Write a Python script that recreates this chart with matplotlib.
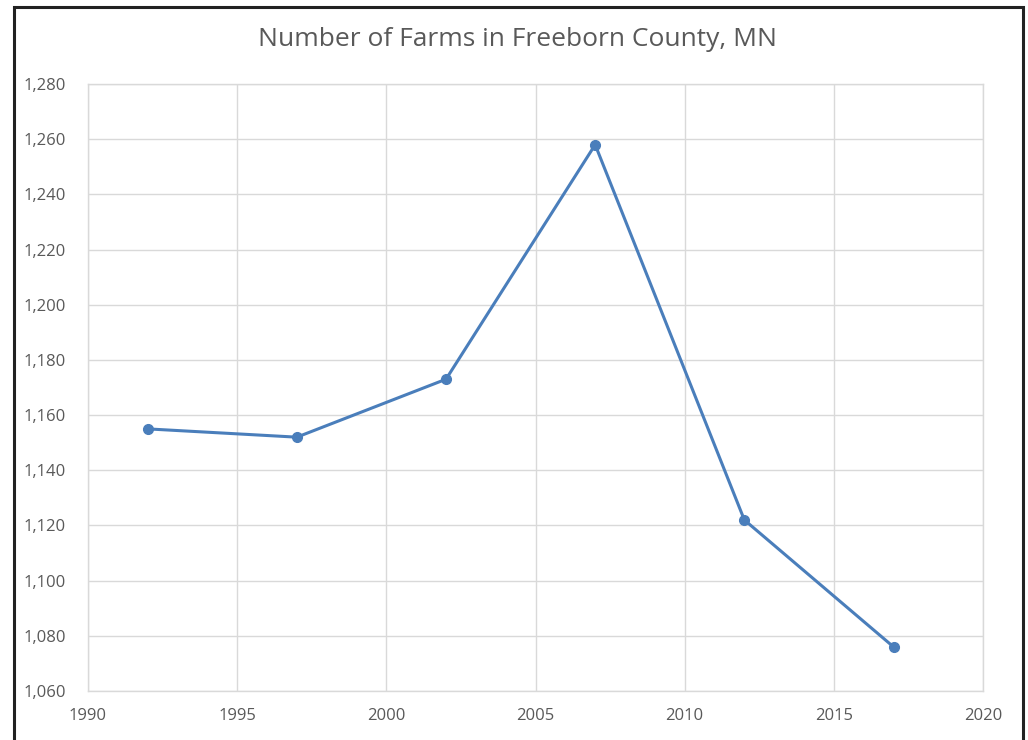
#!/usr/bin/env python3
"""Number of farms in Freeborn County, MN."""

import matplotlib
matplotlib.use("Agg")
import matplotlib.pyplot as plt
from matplotlib.patches import Rectangle
from matplotlib.ticker import FuncFormatter, MultipleLocator

years = [1992, 1997, 2002, 2007, 2012, 2017]
farms = [1155, 1152, 1173, 1258, 1122, 1076]

TEXT = "#595959"
GRID = "#d9d9d9"
LINE = "#4a7ebb"

plt.rcParams["font.family"] = ["Open Sans", "DejaVu Sans"]

fig = plt.figure(figsize=(10.28, 7.40), dpi=100)
ax = fig.add_axes([88 / 1028, 1 - 691 / 740, (983 - 88) / 1028, (691 - 84) / 740])

ax.plot(years, farms, color=LINE, linewidth=2.2, marker="o", markersize=7, zorder=3)

ax.set_xlim(1990, 2020)
ax.set_ylim(1060, 1280)
ax.xaxis.set_major_locator(MultipleLocator(5))
ax.yaxis.set_major_locator(MultipleLocator(20))
ax.yaxis.set_major_formatter(FuncFormatter(lambda v, _: f"{int(v):,}"))

ax.grid(True, color=GRID, linewidth=1.0)
ax.set_axisbelow(True)
for s in ax.spines.values():
    s.set_color(GRID)
    s.set_linewidth(1.0)
ax.tick_params(length=0, labelsize=12, colors=TEXT)
ax.tick_params(axis="x", pad=12)
ax.tick_params(axis="y", pad=16)

fig.text(518 / 1028, 1 - 40 / 740, "Number of Farms in Freeborn County, MN",
         ha="center", va="center", fontsize=19, color=TEXT)

fig.patches.append(Rectangle((13.5 / 1028, -0.05), 1009 / 1028, 1.05 - 7 / 740,
                             transform=fig.transFigure, fill=False,
                             edgecolor="#222222", linewidth=2.2))

fig.savefig("out.png", dpi=100)
